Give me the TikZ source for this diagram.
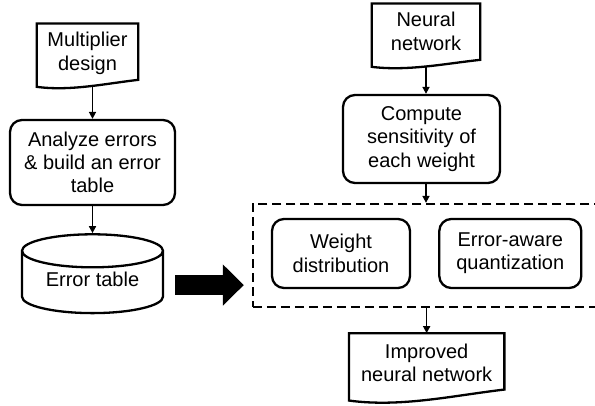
\documentclass[tikz,border=0pt]{standalone}
\usepackage{fontspec}
\setmainfont{Liberation Sans}
\usetikzlibrary{shapes.geometric,arrows.meta,positioning,fit,calc}

\begin{document}
\begin{tikzpicture}[x=1pt, y=1pt, align=center,
        font=\fontsize{20}{23.3}\selectfont,
        docnode/.style={inner sep=0pt, text depth=8pt},
        procbox/.style={draw, line width=2.3pt, rounded corners=12pt, inner sep=0pt},
        flow/.style={line width=1.6pt, -{Triangle[length=7pt, width=7pt]}}]
        \useasboundingbox (0,0) rectangle (595,405);

        % Place nodes
        \node [procbox, minimum width=165pt, minimum height=85pt] (analyze) at (92.5,242.5) {Analyze errors\\\& build an error\\table};
        \node [docnode, minimum width=101pt, minimum height=63pt, above=32pt of analyze, xshift=-5pt] (mult) {Multiplier\\design};
        \node [cylinder, shape border rotate=90, draw, line width=2.3pt, aspect=0.33, text depth=12pt,
               minimum width=141pt, minimum height=74pt, below=27pt of analyze] (errtab) {Error table};

        \node [procbox, minimum width=157pt, minimum height=88pt] (compute) at (421.5,266) {Compute\\sensitivity of\\each weight};
        \node [docnode, minimum width=108pt, minimum height=63pt, above=27pt of compute, xshift=4.5pt] (neural) {Neural\\network};
        \node [procbox, minimum width=138pt, minimum height=69pt] (wdist) at (341,151.5) {Weight\\distribution};
        \node [procbox, minimum width=142pt, minimum height=69pt, right=27pt of wdist] (eaware) {Error-aware\\quantization};
        \coordinate (wlow) at ([yshift=-4pt]wdist.south);
        \node [draw, line width=2pt, dash pattern=on 9pt off 5pt, inner xsep=18pt, inner ysep=14pt,
               fit=(wdist) (eaware) (wlow)] (wbox) {};
        \node [docnode, minimum width=155pt, minimum height=67pt, below=25pt of wbox] (improved) {Improved\\neural network};

        % Document outlines
        \foreach \n/\d in {mult/7, neural/7, improved/11}
            \draw [line width=2.3pt] (\n.north west) -- (\n.north east) -- ([yshift=\d]\n.south east)
                .. controls ($(\n.south west)!0.67!(\n.south east)+(0,0.45*\d)$)
                and ($(\n.south west)!0.33!(\n.south east)+(0,-0.64*\d)$) .. (\n.south west) -- cycle;

        % Draw edges
        \draw [flow] (analyze.north |- mult.south) -- (analyze.north);
        \draw [flow] (analyze.south) -- (errtab.north);
        \draw [flow] (neural.south) -- (neural.south |- compute.north);
        \draw [flow] (neural.south |- compute.south) -- (neural.south |- wbox.north);
        \draw [flow] (improved.north |- wbox.south) -- (improved.north);
        \draw [line width=20pt, -{Triangle[length=21pt, width=40pt]}] ([xshift=11pt]errtab.east) -- ([xshift=-8pt]errtab.east -| wbox.west);
\end{tikzpicture}
\end{document}
